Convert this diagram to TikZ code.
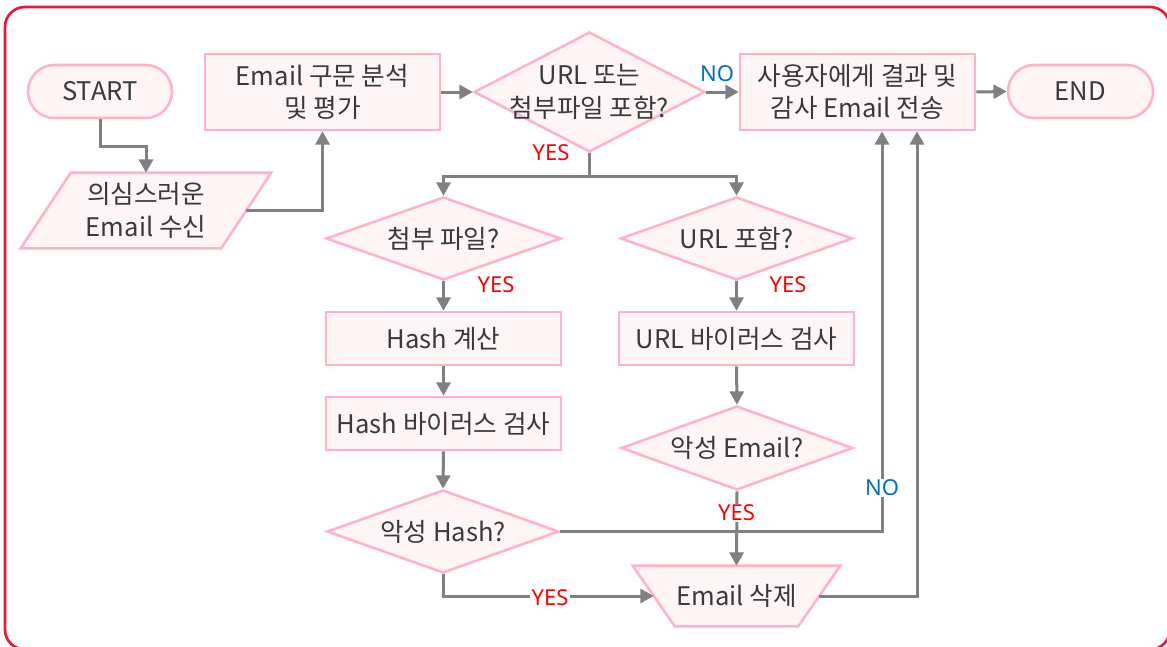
\documentclass[tikz,border=0pt]{standalone}
\usepackage{fontspec}
\setmainfont{Noto Sans CJK KR}
\newfontfamily\labelfont{Noto Sans}
\usetikzlibrary{arrows.meta,shapes.geometric,calc}
\definecolor{framered}{HTML}{E8173D}
\definecolor{boxline}{HTML}{FFB3C4}
\definecolor{boxfill}{HTML}{FFF4F6}
\definecolor{ink}{HTML}{3A3A3A}
\definecolor{wire}{HTML}{808080}
\definecolor{yesred}{HTML}{FF0000}
\definecolor{noblue}{HTML}{0070C0}

\tikzset{
  shapeline/.style={draw=boxline, fill=boxfill, line width=1.9pt},
  txt/.style={text=ink, font=\fontsize{19.2pt}{24.5pt}\selectfont, align=center, inner sep=0pt},
  box/.style={shapeline, txt, rectangle},
  terminal/.style={box, minimum width=108pt, minimum height=39.75pt, rounded corners=19.8pt},
  proc/.style={box, minimum width=176.25pt, minimum height=39.75pt},
  bigproc/.style={box, minimum width=176.25pt, minimum height=57pt},
  decision/.style={shapeline, diamond, inner sep=0pt, minimum width=174pt, minimum height=62.25pt},
  dtext/.style={txt},
  wireline/.style={draw=wire, line width=2.25pt},
  arr/.style={wireline, -{Triangle[length=10pt,width=10.5pt]}},
  yes/.style={text=yesred, font=\labelfont\fontsize{16.5pt}{16.5pt}\selectfont, inner sep=1pt},
  no/.style={text=noblue, font=\labelfont\fontsize{16.5pt}{16.5pt}\selectfont, inner sep=1pt},
  onwire/.style={fill=white}
}

\begin{document}
\begin{tikzpicture}[x=0.75pt,y=-0.75pt]
\useasboundingbox (0,0) rectangle (1167,646);
\clip (0,0) rectangle (1167,646);
\fill[white] (0,0) rectangle (1167,646);

% outer frame
\draw[framered, line width=2pt, rounded corners=15pt] (5,7) rectangle (1170,649.5);

% top row
\node[terminal] (start) at (100,91.5) {START};
\node[bigproc] (parse) at (322.5,92) {Email 구문 분석\\및 평가};
\node[decision, minimum width=173.25pt, minimum height=90pt] (d1) at (589.5,92) {};
\node[dtext] at (d1) {URL 또는\\첨부파일 포함?};
\node[bigproc] (send) at (857.5,92) {사용자에게 결과 및\\감사 Email 전송};
\node[terminal, minimum width=108.75pt] (end) at (1080.5,91.5) {END};

% input parallelogram
\node[txt, minimum width=150pt, minimum height=56.25pt] (recv) at (146,210.5) {};
\draw[shapeline] ($(recv.north west)+(25,0)$) -- ($(recv.north east)+(25,0)$)
  -- ($(recv.south east)+(-25,0)$) -- ($(recv.south west)+(-25,0)$) -- cycle;
\node[txt] at (recv) {의심스러운\\Email 수신};

% attachment branch
\node[decision, minimum width=176.25pt] (att) at (443.5,238.5) {};
\node[dtext] at (att) {첨부 파일?};
\node[proc] (hash) at (443.5,338.5) {Hash 계산};
\node[proc] (hashv) at (443.5,423.5) {Hash 바이러스 검사};
\node[decision] (mh) at (443,531.5) {};
\node[dtext] at (mh) {악성 Hash?};

% URL branch
\node[decision] (url) at (736.5,238.5) {};
\node[dtext] at (url) {URL 포함?};
\node[proc] (urlv) at (736.5,338.5) {URL 바이러스 검사};
\node[decision, minimum height=63pt] (me) at (737,448) {};
\node[dtext] at (me) {악성 Email?};

% delete trapezoid
\node[txt, minimum width=123.75pt, minimum height=45pt] (del) at (736.5,596) {};
\draw[shapeline] ($(del.north west)+(-21,0)$) -- ($(del.north east)+(21,0)$)
  -- ($(del.south east)+(-21,0)$) -- ($(del.south west)+(21,0)$) -- cycle;
\node[txt] at (del) {Email 삭제};

% connectors
\draw[arr] (start.south) |- ($(start.south)!0.5!(recv.north)$) -| (recv.north);
\draw[arr] (recv.east) -| (parse.south);
\draw[arr] (parse.east) -- (d1.west);
\draw[arr] (d1.east) -- (send.west);
\draw[arr] (send.east) -- (end.west);
\draw[wireline] (d1.south) -- ++(0,23) coordinate (split);
\draw[arr] (split) -| (att.north);
\draw[arr] (split) -| (url.north);
\draw[arr] (att.south) -- (hash.north);
\draw[arr] (hash.south) -- (hashv.north);
\draw[arr] (hashv.south) -- (mh.north);
\draw[arr] (url.south) -- (urlv.north);
\draw[arr] (urlv.south) -- (me.north);
\draw[arr] (me.south) -- (del.north);
\draw[arr] (mh.east) -| ($(send.south)+(24.5,0)$);
\draw[arr] (mh.south) |- (del.west);
\draw[arr] (del.east) -| ($(send.south)+(59.5,0)$);

% branch labels
\node[no] at (717,74) {NO};
\node[yes] at (551,153) {YES};
\node[yes] at (496,285) {YES};
\node[yes] at (788,285) {YES};
\node[yes, onwire] at (736.5,513) {YES};
\node[no, onwire] at (882,488) {NO};
\node[yes, onwire] at (550,598) {YES};
\end{tikzpicture}
\end{document}
